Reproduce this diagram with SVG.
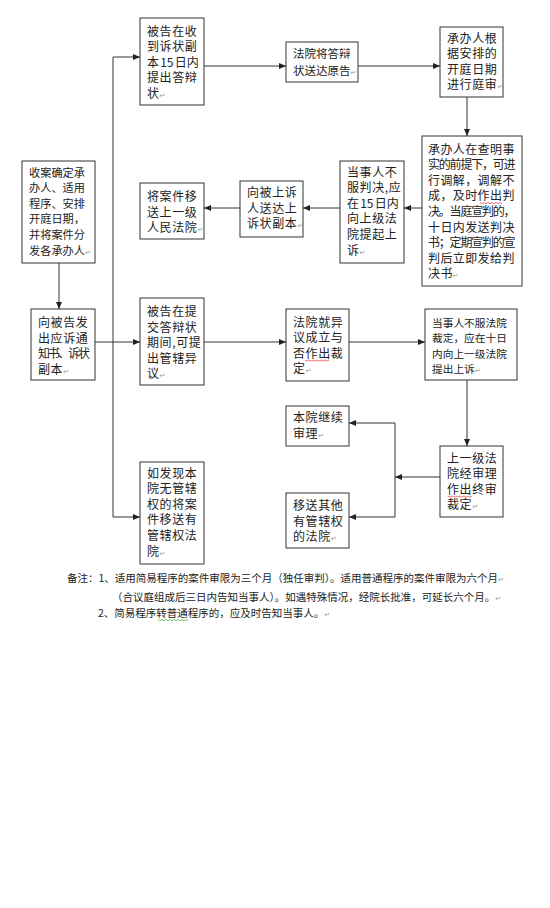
<svg xmlns="http://www.w3.org/2000/svg" width="550" height="908" viewBox="0 0 550 908">
<style>
.box{fill:#fff;stroke:#333;stroke-width:1}
text{font-family:"Noto Sans CJK SC","Noto Sans CJK JP",sans-serif;fill:#222;font-size:12px;letter-spacing:0.6px}
.d{letter-spacing:0.4px}
.b{font-size:11.5px;letter-spacing:0}
.h{font-size:11.2px;letter-spacing:0}
.m{font-size:10.7px;letter-spacing:0}
.note{font-size:10.5px;letter-spacing:0}
.tight{letter-spacing:-1.2px}
.num{letter-spacing:0;word-spacing:-1.5px}
.pm{font-family:"DejaVu Sans",sans-serif;font-size:7px;fill:#999;letter-spacing:0}
.c line{stroke:#333;stroke-width:1;fill:none}
.sq{fill:none;stroke-width:0.7}
</style>
<defs>
<marker id="ah" markerUnits="userSpaceOnUse" markerWidth="7" markerHeight="6" refX="7" refY="3" orient="auto">
<path d="M0,0 L7,3 L0,6 z" fill="#222"/>
</marker>
</defs>
<rect width="550" height="908" fill="#fff"/>

<g id="connectors" class="c">
<line x1="113" y1="57" x2="113" y2="517"/>
<line x1="113" y1="57" x2="140" y2="57" marker-end="url(#ah)"/>
<line x1="95" y1="342" x2="113" y2="342"/>
<line x1="113" y1="342" x2="140" y2="342" marker-end="url(#ah)"/>
<line x1="113" y1="517" x2="140" y2="517" marker-end="url(#ah)"/>
<line x1="59" y1="263" x2="59" y2="309" marker-end="url(#ah)"/>
<line x1="204" y1="66" x2="286" y2="66" marker-end="url(#ah)"/>
<line x1="358" y1="66" x2="440" y2="66" marker-end="url(#ah)"/>
<line x1="467" y1="97" x2="467" y2="136" marker-end="url(#ah)"/>
<line x1="422" y1="208" x2="404" y2="208" marker-end="url(#ah)"/>
<line x1="340" y1="208" x2="303" y2="208" marker-end="url(#ah)"/>
<line x1="240" y1="208" x2="204" y2="208" marker-end="url(#ah)"/>
<line x1="204" y1="342" x2="286" y2="342" marker-end="url(#ah)"/>
<line x1="349" y1="342" x2="425" y2="342" marker-end="url(#ah)"/>
<line x1="467" y1="380" x2="467" y2="446" marker-end="url(#ah)"/>
<line x1="440" y1="477" x2="395" y2="477" marker-end="url(#ah)"/>
<line x1="395" y1="423" x2="395" y2="517"/>
<line x1="395" y1="423" x2="349" y2="423" marker-end="url(#ah)"/>
<line x1="395" y1="517" x2="349" y2="517" marker-end="url(#ah)"/>
</g>

<g id="nodeA">
<rect class="box" x="140" y="18" width="64" height="87"/>
<text><tspan x="147" y="35.5">被告在收</tspan><tspan x="147" y="51.1">到诉状副</tspan><tspan x="147" y="66.7" class="num">本 15 日内</tspan><tspan x="147" y="82.3">提出答辩</tspan><tspan x="147" y="97.9">状</tspan><tspan class="pm">↵</tspan></text>
</g>

<g id="nodeB">
<rect class="box" x="286" y="42" width="72" height="40"/>
<text class="b"><tspan x="293" y="57.5">法院将答辩</tspan><tspan x="293" y="74.5">状送达原告</tspan><tspan class="pm">↵</tspan></text>
</g>

<g id="nodeC">
<rect class="box" x="440" y="27" width="63" height="70"/>
<text><tspan x="447" y="42.5">承办人根</tspan><tspan x="447" y="58.1">据安排的</tspan><tspan x="447" y="73.7">开庭日期</tspan><tspan x="447" y="89.3">进行庭审</tspan><tspan class="pm">↵</tspan></text>
</g>

<g id="nodeD">
<rect class="box" x="422" y="136" width="100" height="150"/>
<text class="d"><tspan x="428" y="153.5">承办人在查明事</tspan><tspan x="428" y="169.1" class="tight">实的前提下，可进</tspan><tspan x="428" y="184.7">行调解，调解不</tspan><tspan x="428" y="200.3">成，及时作出判</tspan><tspan x="428" y="215.9" class="tight">决。当庭宣判的，</tspan><tspan x="428" y="231.5">十日内发送判决</tspan><tspan x="428" y="247.1" class="tight">书；定期宣判的宣</tspan><tspan x="428" y="262.7">判后立即发给判</tspan><tspan x="428" y="278.3">决书</tspan><tspan class="pm">↵</tspan></text>
<path class="sq" stroke="#d33" d="M480,202.5 l2,1.2 l2,-1.2 l2,1.2 l2,-1.2 l2,1.2 l2,-1.2 l2,1.2 l2,-1.2 l2,1.2 l2,-1.2 l2,1.2"/>
</g>

<g id="nodeE">
<rect class="box" x="340" y="161" width="64" height="102"/>
<text><tspan x="347" y="176.5">当事人不</tspan><tspan x="347" y="192.1">服判决,应</tspan><tspan x="347" y="207.7" class="num">在 15 日内</tspan><tspan x="347" y="223.3">向上级法</tspan><tspan x="347" y="238.9">院提起上</tspan><tspan x="347" y="254.5">诉</tspan><tspan class="pm">↵</tspan></text>
</g>

<g id="nodeF">
<rect class="box" x="240" y="181" width="63" height="56"/>
<text><tspan x="247" y="197">向被上诉</tspan><tspan x="247" y="212.6">人送达上</tspan><tspan x="247" y="228.2">诉状副本</tspan><tspan class="pm">↵</tspan></text>
</g>

<g id="nodeG">
<rect class="box" x="140" y="183" width="64" height="56"/>
<text><tspan x="147" y="201">将案件移</tspan><tspan x="147" y="216.6">送上一级</tspan><tspan x="147" y="232.2">人民法院</tspan><tspan class="pm">↵</tspan></text>
</g>

<g id="nodeH">
<rect class="box" x="22" y="161" width="73" height="102"/>
<text class="h"><tspan x="29" y="176.5">收案确定承</tspan><tspan x="29" y="192.1">办人、适用</tspan><tspan x="29" y="207.7">程序、安排</tspan><tspan x="29" y="223.3">开庭日期，</tspan><tspan x="29" y="238.9">并将案件分</tspan><tspan x="29" y="254.5">发各承办人</tspan><tspan class="pm">↵</tspan></text>
</g>

<g id="nodeI">
<rect class="box" x="31" y="309" width="64" height="71"/>
<text><tspan x="38" y="327">向被告发</tspan><tspan x="38" y="342.6">出应诉通</tspan><tspan x="38" y="358.2" style="letter-spacing:-2px">知书、诉状</tspan><tspan x="38" y="373.8">副本</tspan><tspan class="pm">↵</tspan></text>
</g>

<g id="nodeJ">
<rect class="box" x="140" y="298" width="64" height="87"/>
<text><tspan x="147" y="316">被告在提</tspan><tspan x="147" y="331.6">交答辩状</tspan><tspan x="147" y="347.2">期间,可提</tspan><tspan x="147" y="362.8">出管辖异</tspan><tspan x="147" y="378.4">议</tspan><tspan class="pm">↵</tspan></text>
</g>

<g id="nodeL">
<rect class="box" x="286" y="309" width="63" height="72"/>
<text><tspan x="293" y="326.5">法院就异</tspan><tspan x="293" y="342.1">议成立与</tspan><tspan x="293" y="357.7">否作出裁</tspan><tspan x="293" y="373.3">定</tspan><tspan class="pm">↵</tspan></text>
<path class="sq" stroke="#d33" d="M305,360 l2,1.2 l2,-1.2 l2,1.2 l2,-1.2 l2,1.2 l2,-1.2 l2,1.2 l2,-1.2 l2,1.2 l2,-1.2 l2,1.2 l2,-1.2"/>
</g>

<g id="nodeM">
<rect class="box" x="425" y="309" width="92" height="71"/>
<text class="m"><tspan x="432" y="326.5">当事人不服法院</tspan><tspan x="432" y="342.1">裁定，应在十日</tspan><tspan x="432" y="357.7">内向上一级法院</tspan><tspan x="432" y="373.3">提出上诉</tspan><tspan class="pm">↵</tspan></text>
</g>

<g id="nodeN">
<rect class="box" x="440" y="446" width="63" height="71"/>
<text><tspan x="447" y="462.5">上一级法</tspan><tspan x="447" y="478.1">院经审理</tspan><tspan x="447" y="493.7">作出终审</tspan><tspan x="447" y="509.3">裁定</tspan><tspan class="pm">↵</tspan></text>
<path class="sq" stroke="#d33" d="M448,496 l2,1.2 l2,-1.2 l2,1.2 l2,-1.2 l2,1.2 l2,-1.2 l2,1.2 l2,-1.2 l2,1.2 l2,-1.2 l2,1.2 l2,-1.2"/>
</g>

<g id="nodeO">
<rect class="box" x="286" y="406" width="63" height="40"/>
<text><tspan x="293" y="422">本院继续</tspan><tspan x="293" y="437.6">审理</tspan><tspan class="pm">↵</tspan></text>
</g>

<g id="nodeP">
<rect class="box" x="286" y="493" width="63" height="55"/>
<text><tspan x="293" y="510">移送其他</tspan><tspan x="293" y="525.6">有管辖权</tspan><tspan x="293" y="541.2">的法院</tspan><tspan class="pm">↵</tspan></text>
</g>

<g id="nodeK">
<rect class="box" x="140" y="462" width="64" height="102"/>
<text><tspan x="147" y="477.5">如发现本</tspan><tspan x="147" y="493.1">院无管辖</tspan><tspan x="147" y="508.7">权的将案</tspan><tspan x="147" y="524.3">件移送有</tspan><tspan x="147" y="539.9">管辖权法</tspan><tspan x="147" y="555.5">院</tspan><tspan class="pm">↵</tspan></text>
</g>

<g id="notes">
<text class="note"><tspan x="67" y="582">备注：1、适用简易程序的案件审限为三个月（独任审判）。适用普通程序的案件审限为六个月</tspan><tspan class="pm">↵</tspan><tspan x="112" y="601">（合议庭组成后三日内告知当事人）。如遇特殊情况，经院长批准，可延长六个月。</tspan><tspan class="pm">↵</tspan><tspan x="98" y="617">2、简易程序转普通程序的，应及时告知当事人。</tspan><tspan class="pm">↵</tspan></text>
<path class="sq" stroke="#3a3" d="M158,619.5 l2,1.2 l2,-1.2 l2,1.2 l2,-1.2 l2,1.2 l2,-1.2 l2,1.2 l2,-1.2 l2,1.2 l2,-1.2 l2,1.2 l2,-1.2 l2,1.2 l2,-1.2 l2,1.2"/>
</g>
</svg>
